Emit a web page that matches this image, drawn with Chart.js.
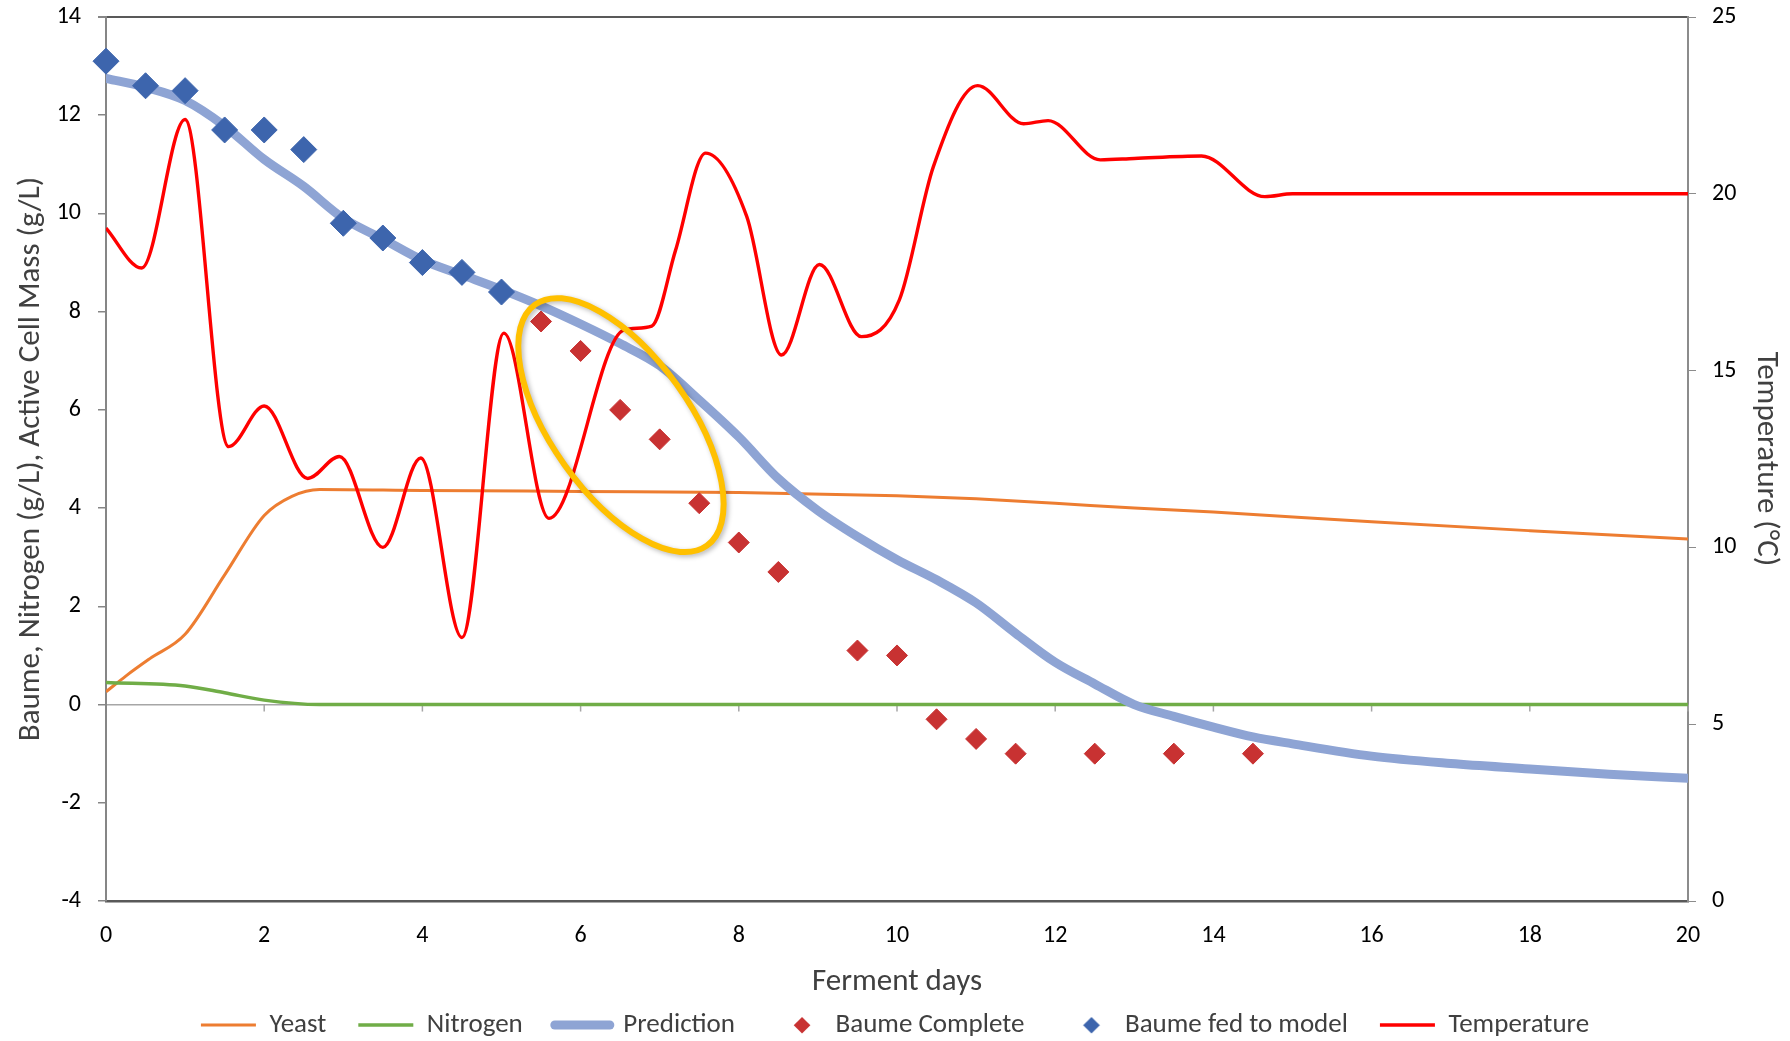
<!DOCTYPE html>
<html>
<head>
<meta charset="utf-8">
<script src="https://cdn.jsdelivr.net/npm/chart.js@4.4.1/dist/chart.umd.min.js"></script>
<style>
html,body{margin:0;padding:0;background:#fff;}
canvas{display:block;}
</style>
</head>
<body>
<canvas id="c" width="1790" height="1041"></canvas>
<script>
// ---------------- DATA ----------------
const xTickLabels = [0, 2, 4, 6, 8, 10, 12, 14, 16, 18, 20];
const leftTickLabels = [-4, -2, 0, 2, 4, 6, 8, 10, 12, 14];
const rightTickLabels = [0, 5, 10, 15, 20, 25];

const yeastDays = [0, 0.25, 0.55, 1.0, 1.5, 2.0, 2.35, 2.7, 4, 6, 8, 10, 11, 12, 13, 14, 16, 18, 20];
const yeastVals = [0.26, 0.58, 0.93, 1.43, 2.64, 3.85, 4.24, 4.38, 4.36, 4.34, 4.32, 4.25, 4.19, 4.1, 4.0, 3.92, 3.72, 3.54, 3.37];

const nitrogenDays = [0, 1.0, 1.5, 2.0, 2.7, 20];
const nitrogenVals = [0.45, 0.38, 0.24, 0.09, 0, 0];

const predDays = [0, 0.5, 1, 1.5, 2, 2.5, 3, 3.5, 4, 4.5, 5, 5.5, 6, 6.5, 7, 7.5, 8, 8.5, 9, 9.5, 10, 10.5, 11, 11.5, 12, 12.5, 13, 13.5, 14, 14.5, 15, 16, 17, 18, 19, 20];
const predVals = [12.75, 12.57, 12.3, 11.78, 11.1, 10.55, 9.9, 9.48, 9.05, 8.75, 8.45, 8.12, 7.75, 7.35, 6.9, 6.2, 5.45, 4.6, 3.95, 3.42, 2.95, 2.54, 2.07, 1.45, 0.86, 0.42, 0.0, -0.24, -0.46, -0.66, -0.8, -1.05, -1.2, -1.31, -1.42, -1.5];

const completeDays = [5.5, 6, 6.5, 7, 7.5, 8, 8.5, 9.5, 10, 10.5, 11, 11.5, 12.5, 13.5, 14.5];
const completeVals = [7.8, 7.2, 6.0, 5.4, 4.1, 3.3, 2.7, 1.1, 1.0, -0.3, -0.7, -1.0, -1.0, -1.0, -1.0];

const fedDays = [0, 0.5, 1, 1.5, 2, 2.5, 3, 3.5, 4, 4.5, 5];
const fedVals = [13.1, 12.6, 12.5, 11.7, 11.7, 11.3, 9.8, 9.5, 9.0, 8.8, 8.4];

const tempDays = [0, 0.45, 1.0, 1.55, 2.0, 2.55, 2.95, 3.5, 3.98, 4.5, 5.03, 5.6, 6.55, 6.9, 7.2, 7.58, 8.1, 8.54, 9.02, 9.55, 10.03, 10.46, 11.02, 11.6, 11.91, 12.57, 13.0, 13.85, 14.65, 15.0, 20];
const tempVals = [19.03, 17.9, 22.1, 12.85, 14.0, 11.95, 12.57, 10.0, 12.53, 7.45, 16.06, 10.82, 16.15, 16.26, 18.4, 21.15, 19.36, 15.44, 18.0, 15.96, 17.0, 20.77, 23.06, 21.98, 22.07, 20.96, 21.0, 21.07, 19.92, 20.0, 20.0];

// highlighted region (data units): centre of the ellipse annotation
const highlightCentre = {day: 6.51, value: 5.69};

// ---------------- STYLE / LAYOUT ----------------
const FONT = 'Carlito, Lato, "Liberation Sans", sans-serif';
const PLOT = {left: 106, right: 1688, top: 17, bottom: 901};
const LEGEND_SHIFT = -7.5;

const pts = (xs, ys) => xs.map((x, i) => ({x: x, y: ys[i]}));

function diamondIcon(color, half, w, cx) {
  const c = document.createElement('canvas');
  c.width = w; c.height = 2 * half + 2;
  const g = c.getContext('2d');
  g.fillStyle = color;
  g.beginPath();
  g.moveTo(cx - half, half + 1);
  g.lineTo(cx, 1);
  g.lineTo(cx + half, half + 1);
  g.lineTo(cx, 2 * half + 1);
  g.closePath();
  g.fill();
  return c;
}

const RED_D = '#C83232';
const BLUE_D = '#3D65AD';

const datasets = [
  {label: 'Yeast', data: pts(yeastDays, yeastVals), yAxisID: 'y', borderColor: '#ED7D31', borderWidth: 3,
   pointRadius: 0, cubicInterpolationMode: 'monotone', order: 5},
  {label: 'Nitrogen', data: pts(nitrogenDays, nitrogenVals), yAxisID: 'y', borderColor: '#70AD47', borderWidth: 3.5,
   pointRadius: 0, cubicInterpolationMode: 'monotone', order: 4},
  {label: 'Prediction', data: pts(predDays, predVals), yAxisID: 'y', borderColor: '#8EA4D4', borderWidth: 9,
   pointRadius: 0, cubicInterpolationMode: 'monotone', order: 3, borderCapStyle: 'round', legendCap: 'round'},
  {label: 'Baume Complete', data: pts(completeDays, completeVals), yAxisID: 'y', showLine: false,
   pointStyle: 'rectRot', pointRadius: 10.5, backgroundColor: RED_D, borderColor: RED_D, pointBorderWidth: 1,
   clip: false, order: 2, legendIcon: diamondIcon(RED_D, 8.3, 55, 35)},
  {label: 'Baume fed to model', data: pts(fedDays, fedVals), yAxisID: 'y', showLine: false,
   pointStyle: 'rectRot', pointRadius: 13, backgroundColor: BLUE_D, borderColor: BLUE_D, pointBorderWidth: 1,
   clip: false, order: 1, legendIcon: diamondIcon(BLUE_D, 8.3, 55, 35)},
  {label: 'Temperature', data: pts(tempDays, tempVals), yAxisID: 'y2', borderColor: '#FF0000', borderWidth: 3.4,
   pointRadius: 0, cubicInterpolationMode: 'monotone', order: 0}
];

const zeroTicks = {
  id: 'zeroTicks',
  beforeDatasetsDraw(chart) {
    const {ctx, scales: {x, y}} = chart;
    const py = y.getPixelForValue(0);
    ctx.save();
    ctx.strokeStyle = '#A6A6A6';
    ctx.lineWidth = 1.5;
    x.ticks.forEach(t => {
      if (t.value === x.min) return;
      const px = x.getPixelForValue(t.value);
      ctx.beginPath();
      ctx.moveTo(px, py);
      ctx.lineTo(px, py + 7);
      ctx.stroke();
    });
    ctx.restore();
  }
};

const ellipsePlugin = {
  id: 'ellipseNote',
  afterDatasetsDraw(chart) {
    const {ctx, scales: {x, y}} = chart;
    const cx = x.getPixelForValue(highlightCentre.day);
    const cy = y.getPixelForValue(highlightCentre.value);
    ctx.save();
    ctx.shadowColor = 'rgba(0,0,0,0.28)';
    ctx.shadowBlur = 5;
    ctx.shadowOffsetX = 2;
    ctx.shadowOffsetY = 2;
    ctx.strokeStyle = '#FFC000';
    ctx.lineWidth = 6;
    ctx.beginPath();
    ctx.ellipse(cx, cy, 148, 69, 54.5 * Math.PI / 180, 0, Math.PI * 2);
    ctx.stroke();
    ctx.restore();
  }
};

const tickFont = {family: FONT, size: 24};
const titleFont = {family: FONT, size: 31};

function noPad(s) { s.paddingTop = 0; s.paddingBottom = 0; s.paddingLeft = 0; s.paddingRight = 0; }

new Chart(document.getElementById('c'), {
  type: 'line',
  data: {datasets: datasets},
  plugins: [zeroTicks, ellipsePlugin],
  options: {
    responsive: false,
    animation: false,
    events: [],
    devicePixelRatio: 1,
    layout: {padding: {top: PLOT.top, left: 0, right: 0, bottom: LEGEND_SHIFT}},
    plugins: {
      tooltip: {enabled: false},
      legend: {
        position: 'bottom',
        labels: {
          usePointStyle: true,
          pointStyleWidth: 55,
          boxHeight: 10,
          padding: 32,
          color: '#404040',
          font: {family: FONT, size: 27},
          sort: (a, b) => a.datasetIndex - b.datasetIndex,
          generateLabels(chart) {
            return chart.data.datasets.map((ds, i) => ({
              text: ds.label,
              datasetIndex: i,
              fontColor: '#404040',
              hidden: false,
              pointStyle: ds.legendIcon ? ds.legendIcon : 'line',
              strokeStyle: ds.borderColor,
              fillStyle: ds.backgroundColor || ds.borderColor,
              lineWidth: ds.legendIcon ? 0 : ds.borderWidth,
              lineCap: ds.legendCap || 'butt',
              rotation: 0
            }));
          }
        }
      }
    },
    scales: {
      x: {
        type: 'linear', min: 0, max: 20,
        afterBuildTicks: s => { s.ticks = xTickLabels.map(v => ({value: v})); },
        ticks: {font: tickFont, color: '#000', padding: 21, maxRotation: 0, autoSkip: false},
        grid: {drawOnChartArea: false, drawTicks: false},
        border: {color: '#595959', width: 2.5},
        title: {display: true, text: 'Ferment days', font: titleFont, color: '#404040', padding: {top: 0, bottom: -21.5}},
        afterFit: s => { noPad(s); s.height = s.chart.height - LEGEND_SHIFT - PLOT.bottom - s.chart.legend.height; }
      },
      y: {
        position: 'left', min: -4, max: 14,
        afterBuildTicks: s => { s.ticks = leftTickLabels.map(v => ({value: v})); },
        ticks: {font: tickFont, color: '#000', padding: 17},
        grid: {
          color: c => c.tick && c.tick.value === 14 ? '#595959' : (c.tick && c.tick.value === 0 ? '#A6A6A6' : 'rgba(0,0,0,0)'),
          lineWidth: c => c.tick && c.tick.value === 14 ? 2 : 1.5,
          tickColor: '#868686', tickLength: 8, drawTicks: true
        },
        border: {color: '#868686', width: 2},
        title: {display: true, text: 'Baume, Nitrogen (g/L), Active Cell Mass (g/L)', font: titleFont, color: '#404040', padding: {top: 12.9, bottom: 0}},
        afterFit: s => { noPad(s); s.width = PLOT.left; }
      },
      y2: {
        position: 'right', min: 0, max: 25,
        afterBuildTicks: s => { s.ticks = rightTickLabels.map(v => ({value: v})); },
        ticks: {font: tickFont, color: '#000', padding: 16},
        grid: {drawOnChartArea: false, tickColor: '#8C8C8C', tickLength: 8},
        border: {color: '#8C8C8C', width: 2},
        title: {display: true, text: 'Temperature (°C)', font: titleFont, color: '#404040', padding: {top: 5.4, bottom: 0}},
        afterFit: s => { noPad(s); s.width = s.chart.width - PLOT.right; }
      }
    }
  }
});
</script>
</body>
</html>
